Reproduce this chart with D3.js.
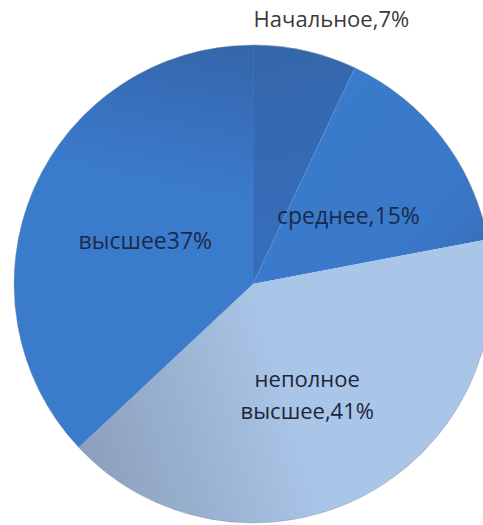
<!DOCTYPE html>
<html><head><meta charset="utf-8">
<script src="https://cdn.jsdelivr.net/npm/d3@7"></script>
<style>html,body{margin:0;padding:0;background:#fff;overflow:hidden}</style>
</head><body>
<svg id="c" width="483" height="525"></svg>
<script>
const categories = ["Начальное", "среднее", "неполное высшее", "высшее"];
const values = [7, 15, 41, 37];
const labels = [["Начальное,7%"], ["среднее,15%"], ["неполное", "высшее,41%"], ["высшее37%"]];

const W = 483, H = 525, cx = 253, cy = 284, R = 239;
const svg = d3.select("#c");
const defs = svg.append("defs");

// gradient coordinates are relative to the pie centre (the slices live in a translated group)
function lin(id, x1, y1, x2, y2, stops) {
  const gr = defs.append("linearGradient").attr("id", id).attr("gradientUnits","userSpaceOnUse")
    .attr("x1",x1).attr("y1",y1).attr("x2",x2).attr("y2",y2);
  stops.forEach(s => gr.append("stop").attr("offset", s[0]).attr("stop-color", s[1]));
}
lin("g0", 10, -R, 60, -60, [[0,"#3466a9"],[1,"#366dba"]]);
lin("g1", 60, -180, 230, -40, [[0,"#3b7bcc"],[0.7,"#3a79c9"],[1,"#3771bd"]]);
lin("g2", -190, 190, 40, 120, [[0,"#899bb5"],[0.5,"#98b0cf"],[1,"#a9c5e7"]]);
lin("g3", -30, -R, -60, -95, [[0,"#3466aa"],[0.5,"#3870bc"],[1,"#3b7bcc"]]);
const fills = ["url(#g0)","url(#g1)","url(#g2)","url(#g3)"];

const pie = d3.pie().sort(null).value(d => d)(values);
const arc = d3.arc().innerRadius(0).outerRadius(R);
const g = svg.append("g").attr("transform", `translate(${cx},${cy})`);
g.selectAll("path").data(pie).join("path")
  .attr("d", arc)
  .attr("fill", (d,i) => fills[i])
  .attr("stroke", (d,i) => i===0 ? "#7aa0d6" : "none")
  .attr("stroke-width", 0.6)
  .attr("stroke-dasharray", (d,i) => i===0 ? "2,2" : null);
g.append("circle").attr("r", R).attr("fill","none").attr("stroke","#7d8ea6").attr("stroke-width",0.8).attr("opacity",0.5);

const inArc = d3.arc().innerRadius(R*0.5).outerRadius(R*0.5);
const outArc = d3.arc().innerRadius(R*1.12).outerRadius(R*1.12);
const offsets = [[20,-3],[1,5],[0,-11],[2,4]];
const colors = ["#3a3a3a","#1b2a4c","#1e2638","#1b2a4c"];
const sizes = [22, 23, 22, 23];
const lineGap = 32;
pie.forEach((d,i) => {
  const [x,y] = (i===0 ? outArc : inArc).centroid(d);
  const px = x + offsets[i][0], py = y + offsets[i][1];
  const t = g.append("text")
    .attr("text-anchor","middle")
    .attr("font-family","'Open Sans', sans-serif")
    .attr("font-size", sizes[i])
    .attr("fill", colors[i]);
  labels[i].forEach((s,k) => {
    t.append("tspan").attr("x", px).attr("y", py + k*lineGap).attr("dy","0.35em").text(s);
  });
});
</script>
</body></html>
